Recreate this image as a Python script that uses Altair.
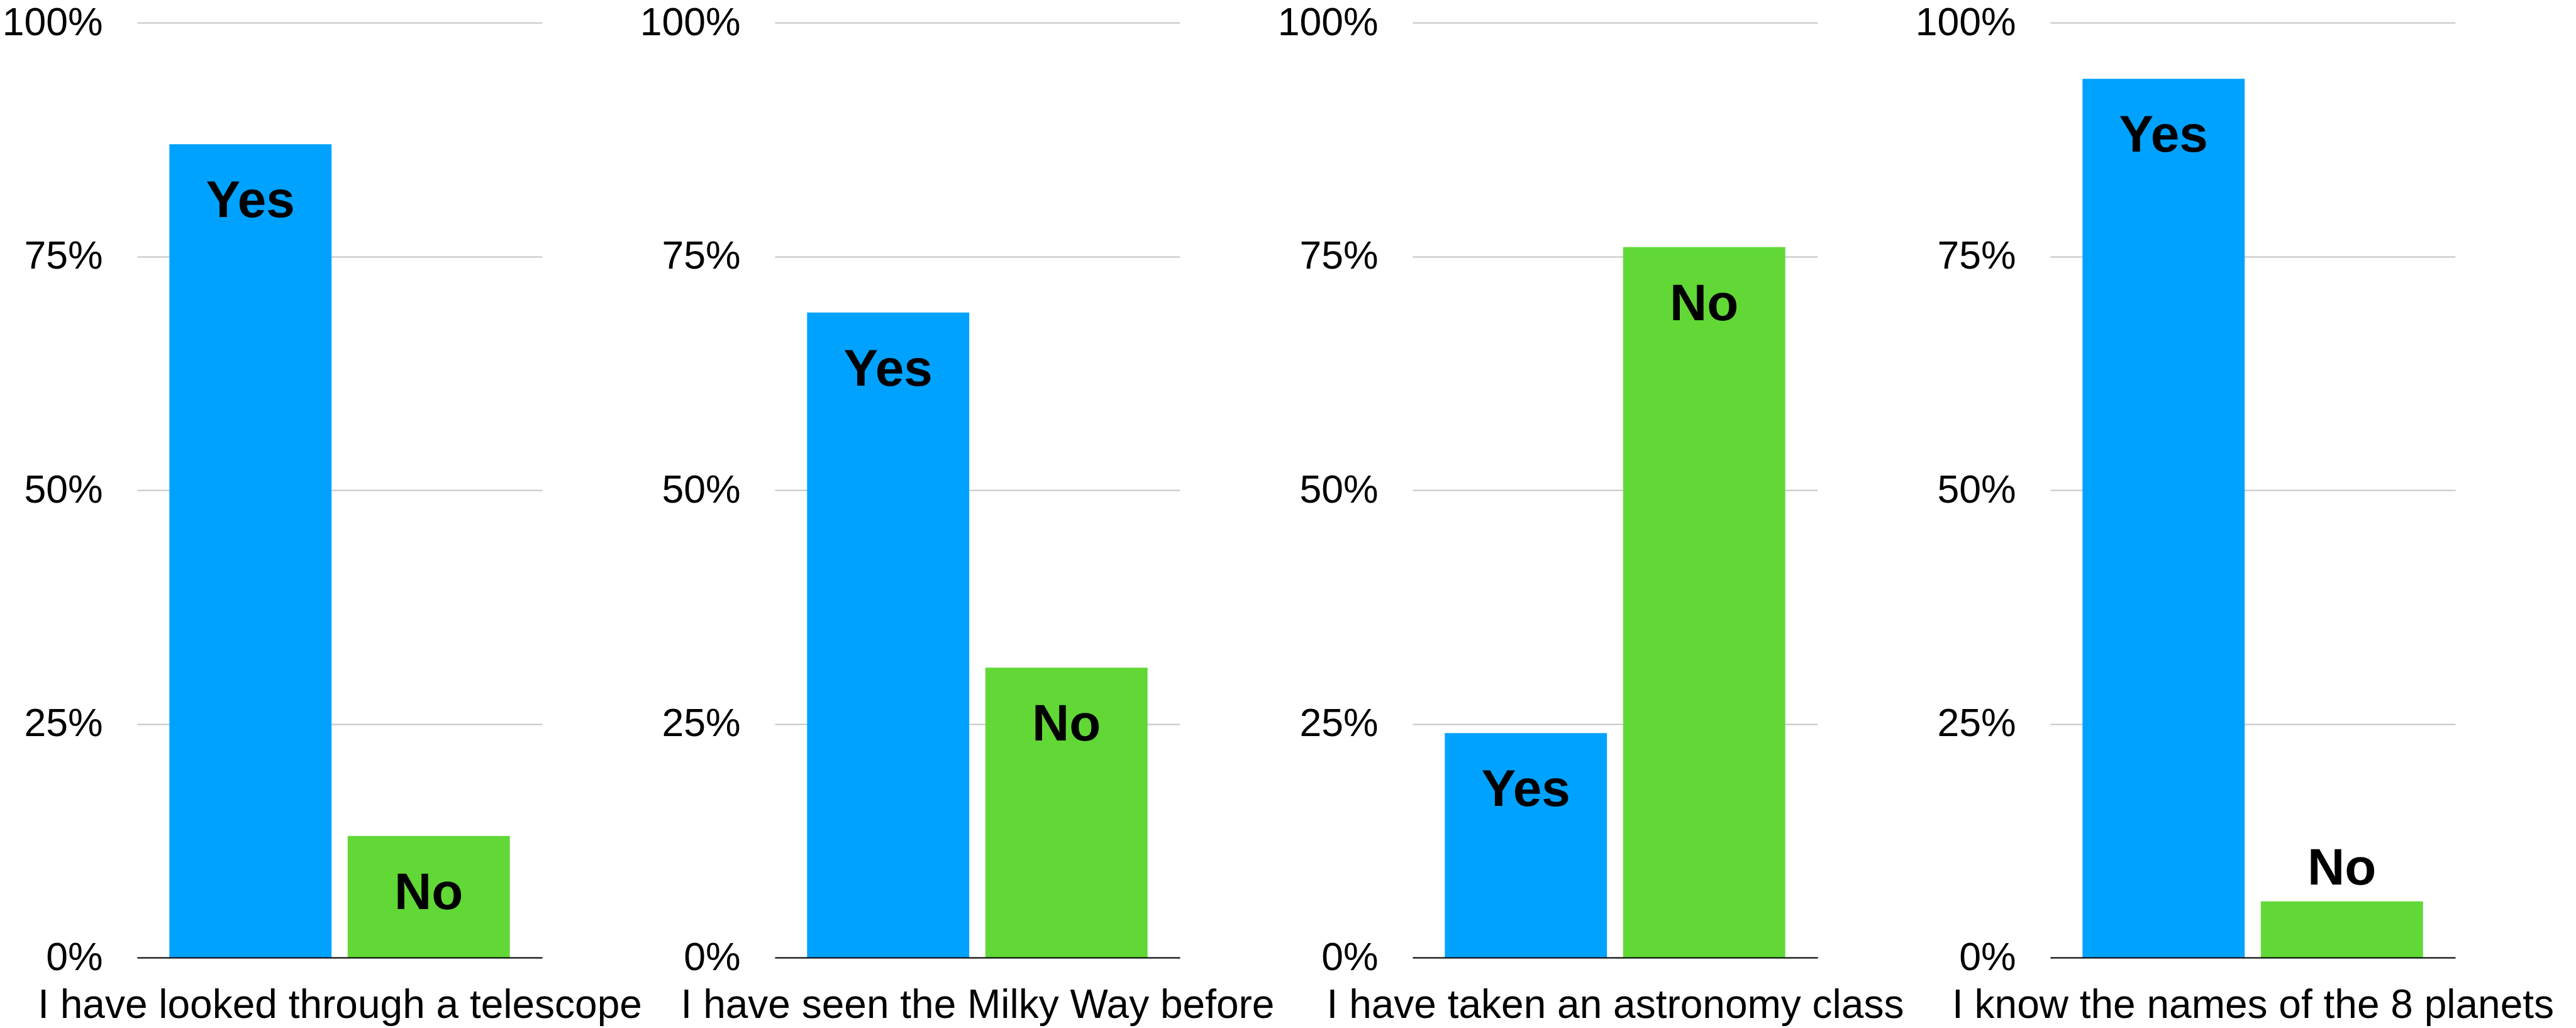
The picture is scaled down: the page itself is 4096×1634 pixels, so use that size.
import altair as alt
import pandas as pd

questions = [
    "I have looked through a telescope",
    "I have seen the Milky Way before",
    "I have taken an astronomy class",
    "I know the names of the 8 planets",
]
answers = ["Yes", "No"]
yes_share = [0.87, 0.69, 0.24, 0.94]
no_share = [0.13, 0.31, 0.76, 0.06]
bar_colors = ["#00A2FF", "#61D836"]
tick_values = [0, 0.25, 0.5, 0.75, 1.0]

FONT = "Liberation Sans"
W, H = 644, 1486


def panel(question, y_val, n_val):
    df = pd.DataFrame({"answer": answers, "share": [y_val, n_val]})
    base = alt.Chart(df).encode(
        x=alt.X(
            "answer:N",
            sort=answers,
            scale=alt.Scale(paddingInner=0.0905, paddingOuter=0.181),
            axis=alt.Axis(
                title=question,
                labels=False,
                ticks=False,
                grid=False,
                domain=True,
                domainColor="#000000",
                domainWidth=2,
                titleFont=FONT,
                titleFontSize=64,
                titleFontWeight="normal",
                titleColor="#000000",
                titleBaseline="alphabetic",
                titleAlign="center",
                titleX=W / 2,
                titleY=95,
                zindex=1,
            ),
        ),
        y=alt.Y(
            "share:Q",
            scale=alt.Scale(domain=[0, 1], nice=False, zero=True),
            axis=alt.Axis(
                values=tick_values,
                format=".0%",
                title=None,
                domain=False,
                ticks=False,
                labelFont=FONT,
                labelFontSize=62.5,
                labelColor="#000000",
                labelPadding=55,
                grid=True,
                gridColor="#C4C4C4",
                gridWidth=1.8,
                zindex=0,
            ),
        ),
    )
    bars = base.mark_bar().encode(
        color=alt.Color(
            "answer:N",
            scale=alt.Scale(domain=answers, range=bar_colors),
            legend=None,
        )
    )
    inside = base.transform_filter("datum.share >= 0.1").mark_text(
        font=FONT, fontSize=82, fontWeight="bold", baseline="alphabetic",
        align="center", dy=116, color="#000000"
    ).encode(text="answer:N")
    outside = base.transform_filter("datum.share < 0.1").mark_text(
        font=FONT, fontSize=82, fontWeight="bold", baseline="alphabetic",
        align="center", dy=-27, color="#000000"
    ).encode(text="answer:N")
    return alt.layer(bars, inside, outside).properties(width=W, height=H)


panels = [panel(q, y, n) for q, y, n in zip(questions, yes_share, no_share)]

chart = (
    alt.hconcat(*panels, spacing=370, bounds="flush")
    .properties(padding={"left": 3, "top": 5, "right": 5, "bottom": 2}, background="#FFFFFF")
    .configure_view(stroke=None)
)

chart.save("out.html", embed_options={"renderer": "svg", "actions": False})
